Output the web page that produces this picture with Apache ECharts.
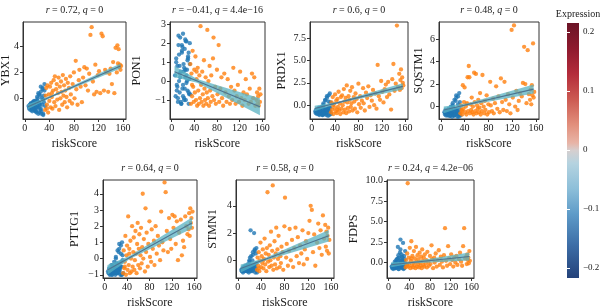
<!DOCTYPE html>
<html>
<head>
<meta charset="utf-8">
<script src="https://cdn.jsdelivr.net/npm/echarts@6/dist/echarts.min.js"></script>
<style>
  html, body { margin: 0; padding: 0; background: #fff; }
  #chart { width: 600px; height: 308px; }
</style>
</head>
<body>
<div id="chart"></div>
<script>
// riskScore of the low-risk (blue) and high-risk (orange) samples
const lowScore = [
  6, 7, 8, 9, 10, 11, 12, 13, 14, 15,
  16, 17, 18, 19, 20, 21, 22, 23, 24, 25,
  26, 27, 28, 29, 30, 31, 32, 33,
  8, 10, 12, 14, 16, 18, 20, 22, 24, 26, 28, 30, 32,
  11, 13, 15, 17, 19, 21, 23, 25, 27, 29, 31,
  9, 14, 18, 22, 26, 30, 20, 24
];
const highScore = [
  33, 34, 35, 36, 37, 38, 39, 40, 41, 42,
  43, 44, 45, 46, 47, 48, 49, 50, 51, 52,
  53, 54, 55, 56, 57, 58, 59, 60, 61, 62,
  63, 64, 65, 66, 67, 68, 69, 70, 72, 73,
  74, 75, 77, 78, 80, 81, 83, 84, 86, 88,
  89, 91, 93, 95, 97, 99, 101, 103, 105, 107,
  109, 111, 113, 115, 117, 119, 121, 123, 125, 127,
  129, 131, 133, 136, 138, 140, 142, 144, 146, 148,
  150, 151, 152, 153, 154, 155, 156, 157, 36, 44
];

// expression per gene, same sample order as above
const ybx1Low = [
  -0.6, -0.8, -0.5, -0.9, -0.4, -0.7, -1.0, -0.3, -0.8, -0.5,
  -0.9, -0.2, -0.7, -1.1, 0.1, -0.6, -1.2, 0.3, -0.4, -0.9,
  0.5, -1.0, 0.0, 0.7, -1.3, 0.2, 1.1, -0.6,
  -0.7, -0.4, -0.9, -0.3, -0.6, -1.0, -0.2, 0.4, -1.1, 0.9, -0.5, -1.2, 0.6,
  -0.5, -0.8, -0.2, -1.0, -0.4, 0.0, -0.7, 0.2, -1.2, 0.8, -0.3,
  -0.6, -0.5, -0.9, -0.3, -0.8, -0.1, -0.7, -0.5
];
const ybx1High = [
  -0.9, 0.2, 0.8, -0.5, 1.0, -1.1, 0.3, -0.2, 0.9, -0.7,
  1.2, 0.1, -0.8, 0.6, 1.4, -0.3, 1.7, -0.6, 0.7, 1.1,
  -0.1, 0.4, 1.6, -0.9, 0.9, 0.0, 1.3, 0.5, -0.5, 1.8,
  0.2, 1.0, -0.3, 0.6, 1.5, 0.1, -0.7, 1.2, 0.8, -0.2,
  1.7, 0.3, -0.4, 1.1, 2.0, 0.0, 2.9, 0.7, -0.5, 1.4,
  2.2, 0.9, -0.3, 1.6, 2.4, 1.0, 2.3, 0.6, 1.9, 4.9,
  5.5, 1.3, 0.3, 2.6, 0.5, 1.8, 2.1, 0.4, 5.0, 4.8,
  0.6, 2.2, 2.0, 0.5, 1.9, 2.3, 1.1, 2.8, 0.4, 3.9,
  2.0, 4.1, 2.7, 3.8, 2.4, 2.6, 2.2, 2.5, -0.8, 0.4
];
const pon1Low = [
  0.3, -0.8, 1.2, -0.2, 0.8, -1.1, 1.9, 0.0, -0.6, 2.3,
  0.5, -1.2, 1.5, -0.4, 2.5, 0.9, -0.9, 1.7, 0.2, -1.0,
  2.1, 0.6, -0.5, 1.3, -1.2, 0.1, 2.0, -0.7,
  1.0, -0.3, 2.4, 0.4, -1.1, 1.6, -0.8, 0.7, 2.2, -0.1, 1.1, -0.6, 0.9,
  -0.9, 1.4, 0.2, -1.2, 1.8, 0.5, -0.4, 2.1, 0.0, 1.2, -0.7,
  -0.5, 0.8, 1.9, -1.0, 0.3, 1.5, -0.2, 0.6
];
const pon1High = [
  0.9, -1.2, 0.4, -0.8, 1.6, -0.3, -1.1, 0.6, -0.6, 1.3,
  -1.0, 0.1, -1.3, 0.7, -0.5, -1.2, 0.3, -0.9, 2.9, -0.2,
  -1.1, 0.5, -0.7, -1.3, 1.1, -0.4, -1.0, 0.2, -1.2, -0.6,
  2.7, -0.9, 0.0, -1.3, 0.8, -0.5, -1.1, 0.3, -0.8, 1.2,
  2.3, -1.0, -0.3, -1.2, 0.6, -0.7, 1.9, -1.1, -0.4, 0.2,
  -0.9, -1.3, 0.4, -0.6, -1.1, 0.1, -0.8, -1.2, -0.3, -1.0,
  0.7, -0.5, -1.2, -0.8, -0.2, -1.1, 0.5, -0.9, -1.3, -0.6,
  -1.0, 0.1, -0.7, -1.2, -0.4, -1.1, 0.4, -0.9, 0.2, -1.3,
  -1.0, -0.6, -1.2, -0.8, -1.3, -0.4, -1.1, -0.7, -0.2, 0.5
];
const prdx1Low = [
  -0.7, -0.9, -0.5, -1.0, -0.6, -0.8, -0.3, -1.1, -0.7, -0.4,
  -0.9, -0.2, -0.8, -1.1, 0.2, -0.5, -1.0, 0.6, -0.6, -0.9,
  1.0, -0.4, -1.2, 0.4, -0.7, 1.3, -0.3, -1.0,
  -0.8, -0.5, -1.0, -0.3, -0.7, -1.1, 0.0, -0.6, -0.9, 0.8, -0.4, -1.1, 0.3,
  -0.6, -0.9, -0.4, -1.0, -0.2, -0.8, 0.5, -1.1, -0.5, 1.1, -0.7,
  -0.8, -0.6, -1.0, -0.4, -0.7, -0.3, -0.9, -0.5
];
const prdx1High = [
  -0.8, 0.3, -0.5, 0.9, -1.0, 0.1, -0.3, 1.2, -0.7, 0.5,
  -0.9, 0.7, -0.2, 1.5, -0.6, 0.2, -1.0, 0.9, -0.4, 1.1,
  0.0, -0.8, 1.8, 0.4, -0.5, 0.8, -0.9, 2.2, 0.3, -0.3,
  1.0, -0.7, 0.6, 1.6, -0.2, 0.2, 2.0, -0.6, 0.9, 0.4,
  -0.4, 1.3, 0.7, -0.8, 2.4, 0.1, 1.0, -0.3, 0.5, 1.9,
  0.2, -0.6, 1.4, 0.8, 2.1, -0.2, 1.1, 0.5, 1.7, 0.0,
  1.3, -0.4, 4.5, 1.0, 0.6, 2.7, 1.5, 0.3, 1.8, 2.3,
  0.9, 2.6, 1.2, -0.5, 2.9, 4.6, 1.6, 2.4, 8.9, 2.0,
  3.5, 1.7, 2.8, 4.0, 1.9, 3.1, 2.5, 2.2, 0.0, -0.5
];
const sqstm1Low = [
  -0.5, -0.7, -0.3, -0.8, -0.6, -0.4, -0.8, -0.2, -0.7, -0.5,
  -0.8, 0.0, -0.6, -0.9, 0.3, -0.4, -0.8, 0.6, -0.7, -0.3,
  1.0, -0.6, -0.9, 0.2, -0.5, 1.2, -0.2, -0.8,
  -0.6, -0.4, -0.7, -0.5, -0.8, -0.3, 0.1, -0.7, -0.6, 0.8, -0.4, -0.9, 0.4,
  -0.7, -0.5, -0.8, -0.3, -0.6, -0.1, -0.8, 0.5, -0.4, 0.9, -0.7,
  -0.6, -0.8, -0.5, -0.7, -0.2, -0.6, -0.4, -0.7
];
const sqstm1High = [
  -0.6, 0.1, -0.3, -0.7, 1.9, -0.2, 0.4, 1.7, -0.5, 0.0,
  -0.7, 0.3, 2.6, -0.4, 3.6, 2.6, -0.6, 0.2, -0.3, 0.8,
  -0.5, 0.0, -0.7, 3.0, 0.4, -0.4, 2.9, -0.6, 0.1, -0.2,
  0.6, -0.5, -0.1, 1.2, -0.7, 0.3, -0.4, 2.8, 0.0, -0.6,
  0.5, -0.3, 1.0, -0.7, 0.2, -0.5, 2.2, 0.1, -0.4, 0.7,
  -0.6, 0.3, 1.8, -0.2, 0.9, -0.5, 2.5, 0.4, -0.3, 2.2,
  0.6, -0.4, 1.1, 0.2, -0.6, 6.8, 0.8, 7.2, 0.0, 1.4,
  -0.3, 0.5, 1.2, 0.9, 2.1, 5.3, 2.0, 0.3, 5.0, 1.1,
  0.6, 1.5, 0.2, 1.9, 1.0, 5.6, 0.8, 1.3, -0.4, 0.2
];
const pttg1Low = [
  -0.8, -0.9, -0.6, -1.0, -0.7, -0.9, -0.4, -0.8, -1.0, -0.5,
  -0.9, -0.2, -0.7, -1.0, 0.1, -0.6, -0.9, 0.5, -0.8, -0.3,
  0.9, -0.7, -1.0, 0.3, -0.5, 1.0, -0.1, -0.9,
  -0.9, -0.7, -1.0, -0.4, -0.8, -0.6, 0.0, -0.9, -0.7, 0.6, -0.5, -1.0, 0.2,
  -0.8, -0.6, -0.9, -0.5, -0.7, -0.3, -0.9, 0.4, -0.6, 0.8, -1.0,
  -0.9, -0.8, -0.7, -0.4, -0.8, -0.2, -0.9, -0.6
];
const pttg1High = [
  -0.9, 0.5, -0.6, -0.2, 1.4, -1.0, 0.2, 0.8, -0.7, 2.6,
  -0.4, 0.6, -0.9, 1.1, 0.0, -0.8, 2.0, -0.5, 0.4, 1.3,
  -0.7, -0.1, 1.7, 0.3, -0.9, 0.9, 2.2, -0.4, 0.6, 1.5,
  -0.6, 0.2, 1.9, -0.3, 0.7, 4.0, 0.0, 1.2, -0.8, 3.1,
  0.4, 1.6, -0.5, 0.9, 2.3, 0.1, -0.2, 1.8, 0.6, 1.1,
  -0.4, 2.0, 0.3, 1.4, 0.8, -0.1, 2.9, 1.0, 0.5, 4.7,
  4.1, 1.7, 0.4, 2.5, 1.2, 0.6, 2.7, 1.9, 2.6, 0.9,
  2.3, -0.1, 1.6, 2.4, 0.2, 1.1, 0.7, 2.6, 2.0, 1.5,
  1.8, 2.8, 1.4, 3.1, 2.2, 2.5, 1.9, 2.9, -0.5, 0.3
];
const stmn1Low = [
  -0.7, -0.8, -0.6, -0.9, -0.5, -0.7, -0.8, -0.4, -0.7, -0.6,
  -0.8, -0.3, -0.7, -0.9, 0.0, -0.5, 2.2, 0.3, -0.6, -0.8,
  0.6, -0.4, 2.0, 0.8, -0.7, 0.5, -0.2, -0.9,
  -0.8, -0.6, -0.7, -0.5, -0.8, -0.4, -0.1, -0.7, -0.6, 0.4, -0.3, -0.9, 0.9,
  -0.7, -0.6, -0.8, -0.5, -0.7, 0.2, -0.8, 0.0, -0.5, 0.7, -0.6,
  -0.8, -0.7, -0.6, -0.3, -0.7, -0.4, -0.8, -0.5
];
const stmn1High = [
  -0.7, 0.2, -0.4, 0.6, -0.8, 0.0, 1.3, -0.5, 0.3, -0.2,
  0.8, -0.6, 0.1, 1.6, -0.3, 0.5, -0.8, 0.9, 5.0, -0.1,
  0.4, -0.5, 1.1, 0.0, 2.1, -0.4, 0.7, 5.5, -0.7, 0.2,
  1.4, -0.3, 0.5, 2.4, -0.6, 0.8, 0.1, 1.8, -0.5, 0.3,
  -0.2, 1.0, 0.6, -0.7, 2.5, 4.6, 0.2, 1.2, -0.4, 0.7,
  2.3, 0.0, 1.5, -0.5, 0.9, 2.4, 0.3, 1.7, -0.2, 1.1,
  0.5, 2.2, -0.3, 0.8, 1.4, 0.1, 2.0, 2.9, 4.0, 3.7,
  0.6, 1.9, -0.4, 1.3, 2.7, 0.9, 2.2, 0.4, 3.3, 1.6,
  2.6, 1.0, 2.1, 0.7, 1.8, 2.4, 0.5, 1.5, -0.6, 0.0
];
const fdpsLow = [
  -0.5, -0.7, -0.3, -0.8, -0.4, -0.6, 0.1, -0.7, -0.2, -0.5,
  0.4, -0.6, 1.9, -0.8, 0.6, -0.3, 0.2, 2.8, -0.5, 1.0,
  -0.7, 0.3, 2.4, -0.4, 0.8, -0.6, 1.4, -0.2,
  -0.6, -0.3, -0.7, 0.0, -0.5, 0.5, -0.8, 1.2, -0.4, 0.7, -0.6, 0.2, -0.1,
  -0.4, -0.7, 0.3, -0.5, 0.9, -0.3, 1.6, -0.6, 0.1, -0.8, 0.4,
  -0.6, -0.2, 0.0, -0.5, 0.6, -0.7, -0.3, 0.2
];
const fdpsHigh = [
  -0.6, 0.3, -0.3, 1.1, 9.7, -0.5, 0.6, -0.1, 1.8, -0.7,
  0.2, 2.6, -0.4, 0.8, -0.6, 0.0, 1.4, -0.3, 0.5, -0.7,
  1.9, 0.1, -0.5, 0.9, -0.2, 0.4, -0.6, 1.2, 0.0, -0.4,
  0.7, -0.7, 1.6, 0.2, -0.3, 0.6, -0.5, 1.0, -0.1, 0.3,
  -0.6, 1.3, 0.1, -0.4, 0.8, -0.2, 2.1, 0.4, -0.7, 0.6,
  0.0, 1.1, -0.5, 0.3, 1.5, -0.3, 0.7, 0.1, -0.6, 0.9,
  4.2, 0.2, -0.4, 2.0, 0.5, -0.2, 1.0, 0.3, -0.5, 0.6,
  0.0, 0.8, -0.3, 0.4, 1.2, 0.1, -0.4, 2.0, 4.2, 0.5,
  0.7, -0.2, 1.0, 0.3, 0.6, -0.1, 1.4, 0.2, -0.4, 0.5
];

const genes = ['YBX1', 'PON1', 'PRDX1', 'SQSTM1', 'PTTG1', 'STMN1', 'FDPS'];
const lowExpr = [ybx1Low, pon1Low, prdx1Low, sqstm1Low, pttg1Low, stmn1Low, fdpsLow];
const highExpr = [ybx1High, pon1High, prdx1High, sqstm1High, pttg1High, stmn1High, fdpsHigh];
const rText = ['0.72', '\u22120.41', '0.6', '0.48', '0.64', '0.58', '0.24'];
const qText = ['0', '4.4e\u221216', '0', '0', '0', '0', '4.2e\u221206'];

const xTicks = [0, 40, 80, 120, 160];
const yRange = [[-1.6, 5.9], [-2.0, 3.12], [-1.55, 9.3], [-1.1, 7.5], [-1.2, 4.85], [-1.3, 5.9], [-1.9, 10.1]];
const yTicks = [[0, 2, 4], [-1, 0, 1, 2, 3], [0, 2.5, 5, 7.5], [0, 2, 4, 6], [-1, 0, 1, 2, 3, 4], [0, 2, 4], [0, 2.5, 5, 7.5, 10]];
const yDecimals = [0, 0, 1, 0, 0, 0, 1];

// linear fit and its confidence band, read at three riskScore values
const fitX = [5, 45, 156];
const fitY = [[-0.65, 0.18, 2.5], [0.5, 0.01, -1.35], [-0.37, 0.28, 2.1], [-0.3, 0.19, 1.55], [-0.7, 0.07, 2.2], [-0.6, 0.04, 1.8], [-0.28, -0.01, 0.73]];
const fitHalf = [[0.2, 0.07, 0.2], [0.3, 0.1, 0.45], [0.3, 0.1, 0.35], [0.3, 0.1, 0.4], [0.3, 0.1, 0.34], [0.3, 0.1, 0.42], [0.3, 0.12, 0.5]];

const cbTicks = [-0.2, -0.1, 0, 0.1, 0.2];
const cbRange = [-0.217, 0.215];

// layout: [left, top, width, height] of each panel box
const boxes = [
  [23, 22, 103, 97], [170, 22, 95, 97], [310, 22, 98, 97], [439, 22, 100, 97],
  [103, 180, 94, 98], [236, 180, 98, 98], [387, 180, 87, 98]
];
const nameGaps = [11, 27, 22, 14, 22, 17, 27];

const font = '"Liberation Serif", "DejaVu Serif", serif';
const ink = '#1a1a1a';
const frame = '#333';
const fmt = (v, d) => (v < 0 ? '\u2212' : '') + Math.abs(v).toFixed(d);

const chart = echarts.init(document.getElementById('chart'));

const grid = [];
const xAxis = [];
const yAxis = [];
const series = [];
const title = [];

genes.forEach((gene, i) => {
  const [left, top, width, height] = boxes[i];
  grid.push({
    left, top, width, height, show: true, backgroundColor: '#fff',
    borderColor: frame, borderWidth: 1, containLabel: false, outerBoundsMode: 'none'
  });
  xAxis.push({
    gridIndex: i, type: 'value', min: -3, max: 165,
    name: 'riskScore', nameLocation: 'middle', nameGap: 19, nameMoveOverlap: false,
    nameTextStyle: { fontFamily: font, fontSize: 12, color: ink },
    axisLine: { show: true, onZero: false, lineStyle: { color: frame } },
    axisTick: { show: true, length: 3, customValues: xTicks, lineStyle: { color: frame } },
    axisLabel: { customValues: xTicks, fontFamily: font, fontSize: 10, color: ink, margin: 4 },
    splitLine: { show: false }
  });
  yAxis.push({
    gridIndex: i, type: 'value', min: yRange[i][0], max: yRange[i][1],
    name: gene, nameLocation: 'middle', nameGap: nameGaps[i], nameRotate: 90, nameMoveOverlap: false,
    nameTextStyle: { fontFamily: font, fontSize: 12, color: ink },
    axisLine: { show: true, onZero: false, lineStyle: { color: frame } },
    axisTick: { show: true, length: 3, customValues: yTicks[i], lineStyle: { color: frame } },
    axisLabel: {
      customValues: yTicks[i], fontFamily: font, fontSize: 10, color: ink, margin: 4,
      formatter: v => fmt(v, yDecimals[i])
    },
    splitLine: { show: false }
  });
  title.push({
    text: '{i|r} = ' + rText[i] + ', {i|q} = ' + qText[i],
    left: left + width / 2, top: top - 17, textAlign: 'center', padding: 0,
    textStyle: {
      fontFamily: font, fontSize: 10, fontWeight: 'normal', color: ink,
      rich: { i: { fontFamily: font, fontSize: 10, fontStyle: 'italic', color: ink } }
    }
  });

  series.push({
    type: 'scatter', xAxisIndex: i, yAxisIndex: i, silent: true, z: 2,
    symbolSize: 4.3, itemStyle: { color: '#1f77b4' },
    data: lowScore.map((x, k) => [x, lowExpr[i][k]])
  });
  series.push({
    type: 'scatter', xAxisIndex: i, yAxisIndex: i, silent: true, z: 2,
    symbolSize: 4.3, itemStyle: { color: '#ff7f0e' },
    data: highScore.map((x, k) => [x, highExpr[i][k]])
  });
  series.push({
    type: 'custom', xAxisIndex: i, yAxisIndex: i, silent: true, z: 3,
    data: fitX.map((x, k) => [x, fitY[i][k] - fitHalf[i][k], fitY[i][k] + fitHalf[i][k]]),
    encode: { x: 0, y: [1, 2] },
    renderItem: (params, api) => {
      if (params.dataIndex !== 0) return null;
      const lo = fitX.map((x, k) => api.coord([x, fitY[i][k] - fitHalf[i][k]]));
      const hi = fitX.map((x, k) => api.coord([x, fitY[i][k] + fitHalf[i][k]])).reverse();
      return { type: 'polygon', shape: { points: lo.concat(hi) }, style: { fill: 'rgba(88,178,194,0.75)' } };
    }
  });
  series.push({
    type: 'line', xAxisIndex: i, yAxisIndex: i, silent: true, z: 4,
    symbol: 'none', lineStyle: { color: '#4c7390', width: 1.1 },
    data: fitX.map((x, k) => [x, fitY[i][k]])
  });
});

// colour bar for "Expression"
const cb = genes.length;
grid.push({
  left: 567, top: 23, width: 12, height: 255, show: true, borderWidth: 0,
  containLabel: false, outerBoundsMode: 'none',
  backgroundColor: new echarts.graphic.LinearGradient(0, 0, 0, 1, [
    { offset: 0, color: '#6b1426' },
    { offset: 0.1, color: '#8e1a2e' },
    { offset: 0.2, color: '#b42c3b' },
    { offset: 0.3, color: '#cc5a52' },
    { offset: 0.4, color: '#e2907d' },
    { offset: 0.47, color: '#e8b4a6' },
    { offset: 0.5, color: '#d6cfcf' },
    { offset: 0.55, color: '#b5d3e0' },
    { offset: 0.65, color: '#8dbfd9' },
    { offset: 0.75, color: '#5e9bc8' },
    { offset: 0.87, color: '#3d6ea7' },
    { offset: 1, color: '#24427a' }
  ])
});
xAxis.push({ gridIndex: cb, type: 'value', min: 0, max: 1, show: false });
yAxis.push({
  gridIndex: cb, type: 'value', min: cbRange[0], max: cbRange[1], position: 'right',
  axisLine: { show: false },
  axisTick: { show: true, inside: true, length: 3, customValues: cbTicks, lineStyle: { color: '#fff' } },
  axisLabel: { customValues: cbTicks, fontFamily: font, fontSize: 9, color: ink, margin: 4, formatter: v => fmt(v, v === 0 ? 0 : 1) },
  splitLine: { show: false }
});
yAxis.push({
  gridIndex: cb, type: 'value', min: cbRange[0], max: cbRange[1], position: 'left',
  axisLine: { show: false },
  axisTick: { show: true, inside: true, length: 3, customValues: cbTicks, lineStyle: { color: '#fff' } },
  axisLabel: { show: false },
  splitLine: { show: false }
});
title.push({
  text: 'Expression', left: 578, top: 9, textAlign: 'center', padding: 0,
  textStyle: { fontFamily: font, fontSize: 10, fontWeight: 'normal', color: ink }
});

chart.setOption({
  animation: false,
  backgroundColor: '#fff',
  title, grid, xAxis, yAxis, series
});
</script>
</body>
</html>
